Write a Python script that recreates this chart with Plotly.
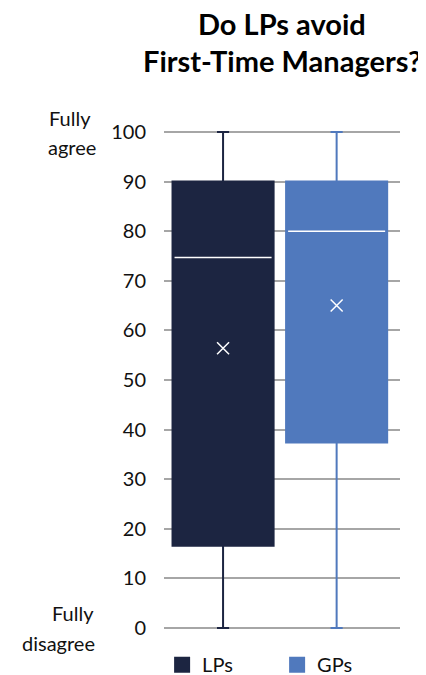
import plotly.graph_objects as go

# ---- data ----
groups = ["LPs", "GPs"]
positions = [0, 1]
minimum = [0, 0]
q1 = [16.6, 37.4]
median = [74.7, 80.0]
q3 = [90, 90]
maximum = [100, 100]
mean = [56.4, 65.0]
colors = ["#1c2541", "#5079bd"]
y_ticks = [0, 10, 20, 30, 40, 50, 60, 70, 80, 90, 100]
title_lines = ["Do LPs avoid", "First-Time Managers?"]

BOX_W = 0.89
FONT = "Lato"

fig = go.Figure()
for i, g in enumerate(groups):
    fig.add_trace(go.Box(
        x=[positions[i]], q1=[q1[i]], median=[median[i]], q3=[q3[i]],
        lowerfence=[minimum[i]], upperfence=[maximum[i]],
        width=BOX_W, whiskerwidth=0.12,
        fillcolor=colors[i], line=dict(color=colors[i], width=2),
        name=g, showlegend=False, hoverinfo="skip",
    ))
    # white median line
    fig.add_trace(go.Scatter(
        x=[positions[i] - BOX_W / 2 * 0.96, positions[i] + BOX_W / 2 * 0.96],
        y=[median[i], median[i]], mode="lines",
        line=dict(color="white", width=1.5), showlegend=False, hoverinfo="skip",
    ))
    # mean marker
    fig.add_trace(go.Scatter(
        x=[positions[i]], y=[mean[i]], mode="markers",
        marker=dict(symbol="x-thin", size=12, line=dict(color="white", width=1.5)),
        showlegend=False, hoverinfo="skip",
    ))

# legend entries
for i, g in enumerate(groups):
    fig.add_trace(go.Scatter(
        x=[None], y=[None], mode="markers", name=g,
        marker=dict(symbol="square", size=16, color=colors[i]),
    ))

annos = [
    ("Fully", 100, 14, -94),
    ("agree", 100, -15, -92),
    ("Fully", 0, 15, -91.5),
    ("disagree", 0, -15, -105.5),
]
for txt, yv, ys, xs in annos:
    fig.add_annotation(
        text=txt, xref="paper", x=0, xshift=xs, xanchor="center",
        yref="y", y=yv, yshift=ys, yanchor="middle", showarrow=False,
        font=dict(family=FONT, size=20, color="#111111"),
    )

# title as two annotation lines
for line, ys in zip(title_lines, [104, 67]):
    fig.add_annotation(
        text="<b>" + line + "</b>", xref="paper", x=0.5, xanchor="center",
        yref="paper", y=1, yshift=ys, yanchor="middle", showarrow=False,
        borderpad=0,
        font=dict(family=FONT, size=29, color="#000000"),
    )

fig.update_layout(
    width=418, height=667,
    margin=dict(l=156, r=26, t=119, b=42, autoexpand=False),
    paper_bgcolor="white", plot_bgcolor="white",
    font=dict(family=FONT, size=20, color="#111111"),
    xaxis=dict(
        range=[-0.52, 1.558], showticklabels=False, showgrid=False,
        zeroline=False, showline=False, ticks="", automargin=False,
    ),
    yaxis=dict(
        range=[-1, 101], tickvals=y_ticks, showgrid=True,
        gridcolor="#a6a6a6", gridwidth=1.5, zeroline=False, showline=False,
        ticks="", ticklabelstandoff=17, automargin=False,
        tickfont=dict(family=FONT, size=20, color="#111111"),
    ),
    showlegend=True,
    legend=dict(
        orientation="h", x=-0.008, xanchor="left", xref="paper",
        y=-0.0626, yanchor="middle", yref="paper",
        font=dict(family=FONT, size=20, color="#111111"),
        entrywidth=70, entrywidthmode="pixels",
        bgcolor="rgba(0,0,0,0)",
    ),
)

fig.write_html("out.html")
